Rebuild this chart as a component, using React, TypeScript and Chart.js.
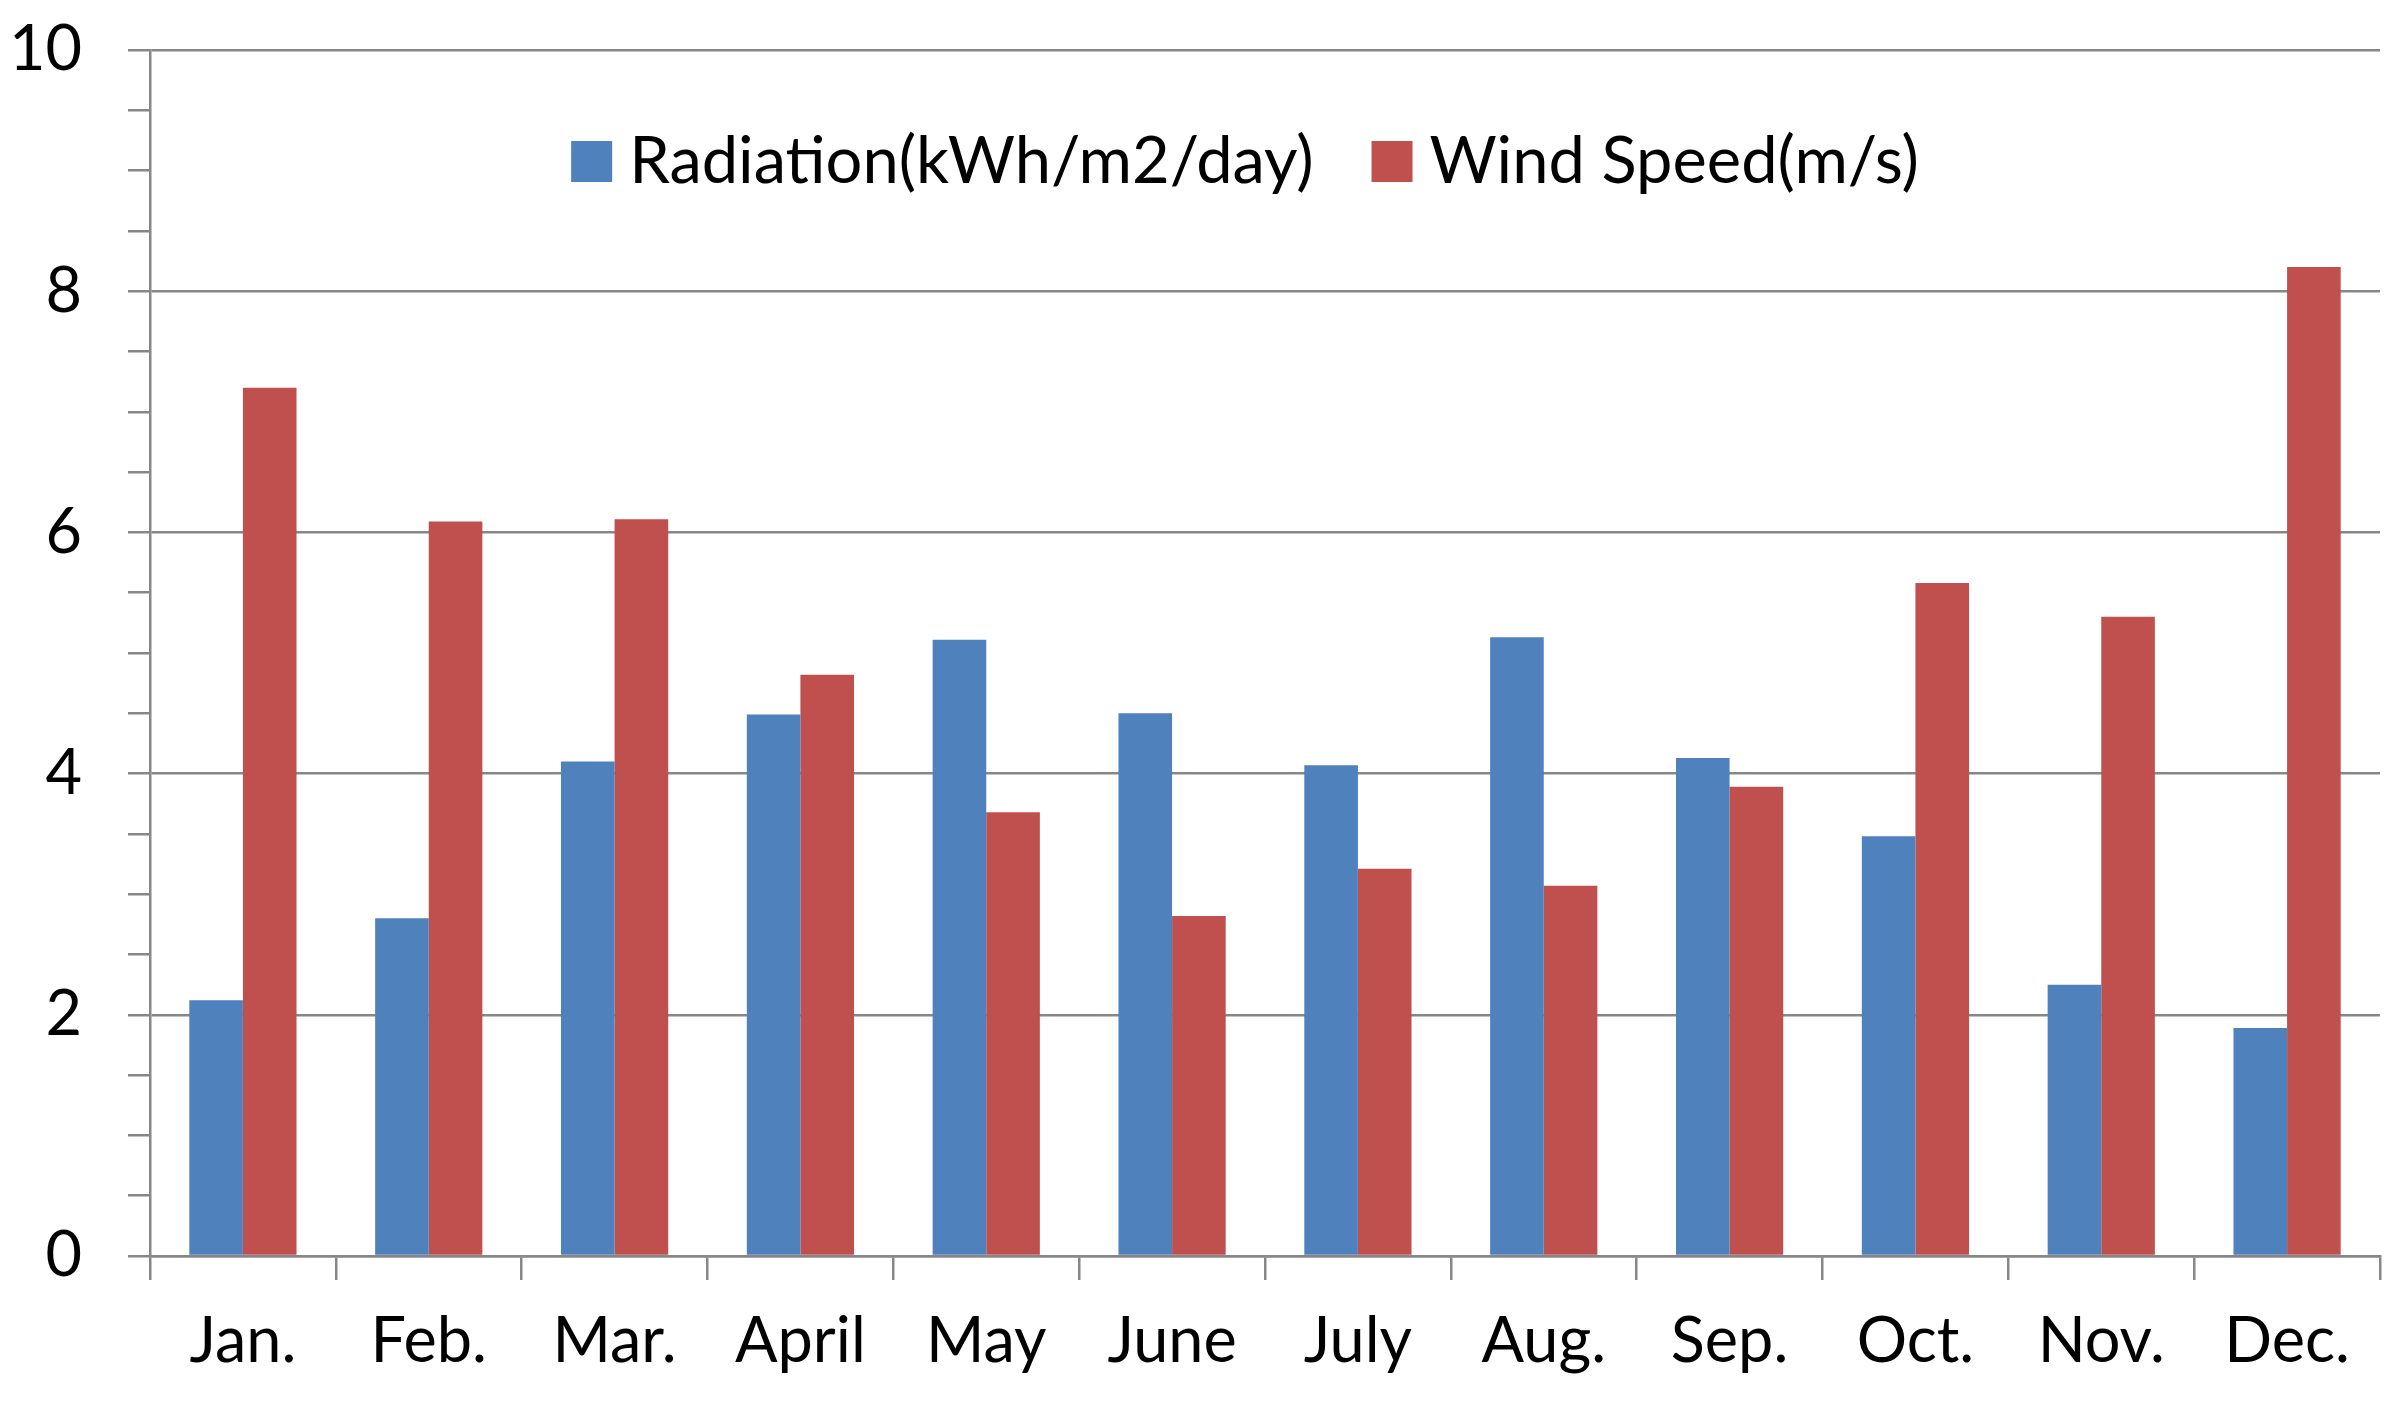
import React, { useEffect, useRef } from "react";
import { Chart, registerables } from "chart.js";

Chart.register(...registerables);

const categories = ["Jan.", "Feb.", "Mar.", "April", "May", "June", "July", "Aug.", "Sep.", "Oct.", "Nov.", "Dec."];
const radiation = [2.12, 2.8, 4.1, 4.49, 5.11, 4.5, 4.07, 5.13, 4.13, 3.48, 2.25, 1.89];
const windSpeed = [7.2, 6.09, 6.11, 4.82, 3.68, 2.82, 3.21, 3.07, 3.89, 5.58, 5.3, 8.2];
const seriesNames = ["Radiation(kWh/m2/day)", "Wind Speed(m/s)"];
const seriesColors = ["#4F81BD", "#C0504D"];
const yMin = 0;
const yMax = 10;
const yMajorStep = 2;
const yMinorStep = 0.5;

const GRAY = "#878787";
const FONT_FAMILY = "Lato, 'Noto Sans', sans-serif";
const FONT_SIZE = 63;
const LEGEND_FONT_SIZE = 65;

const insideLegend = {
  id: "insideLegend",
  afterDraw(chart: any) {
    const ctx = chart.ctx as CanvasRenderingContext2D;
    ctx.save();
    ctx.font = `${LEGEND_FONT_SIZE}px ${FONT_FAMILY}`;
    const box = 41;
    const gapText = 17;
    const gapItem = 58;
    const items = chart.data.datasets.map((ds: any) => ({
      label: ds.label as string,
      color: ds.backgroundColor as string,
      w: ctx.measureText(ds.label).width,
    }));
    const total = items.reduce(
      (s: number, it: any, i: number) => s + box + gapText + it.w + (i ? gapItem : 0),
      0
    );
    let x = 1245 - total / 2;
    const cy = 161.5;
    items.forEach((it: any) => {
      ctx.fillStyle = it.color;
      ctx.fillRect(x, cy - box / 2, box, box);
      x += box + gapText;
      ctx.fillStyle = "#000";
      ctx.textBaseline = "alphabetic";
      ctx.textAlign = "left";
      ctx.fillText(it.label, x, 183);
      x += it.w + gapItem;
    });
    ctx.restore();
  },
};

export default function App() {
  const ref = useRef<HTMLCanvasElement | null>(null);

  useEffect(() => {
    if (!ref.current) return;
    const chart = new Chart(ref.current, {
      type: "bar",
      data: {
        labels: categories,
        datasets: [
          {
            label: seriesNames[0],
            data: radiation,
            backgroundColor: seriesColors[0],
            borderWidth: 0,
            categoryPercentage: 0.577,
            barPercentage: 1,
          },
          {
            label: seriesNames[1],
            data: windSpeed,
            backgroundColor: seriesColors[1],
            borderWidth: 0,
            categoryPercentage: 0.577,
            barPercentage: 1,
          },
        ],
      },
      options: {
        responsive: false,
        animation: false,
        devicePixelRatio: 1,
        layout: { padding: { left: 0, right: 22, top: 50, bottom: 0 } },
        plugins: {
          legend: { display: false },
          tooltip: { enabled: false },
        },
        scales: {
          x: {
            grid: {
              offset: true,
              drawOnChartArea: false,
              drawTicks: true,
              tickLength: 24,
              color: GRAY,
              lineWidth: 2.5,
            },
            border: { display: true, color: GRAY, width: 2.5 },
            ticks: {
              color: "#000",
              padding: 24,
              font: { family: FONT_FAMILY, size: FONT_SIZE },
              maxRotation: 0,
              autoSkip: false,
            },
            afterFit: (scale: any) => {
              scale.height = 153;
            },
          },
          y: {
            min: yMin,
            max: yMax,
            grid: {
              color: (c: any) =>
                c.tick && Math.abs(c.tick.value % yMajorStep) < 1e-9 ? GRAY : "rgba(0,0,0,0)",
              tickColor: GRAY,
              lineWidth: 2.5,
              tickLength: 22,
              drawTicks: true,
            },
            border: { display: true, color: GRAY, width: 2.5 },
            ticks: {
              stepSize: yMinorStep,
              autoSkip: false,
              color: "#000",
              padding: 46,
              font: { family: FONT_FAMILY, size: FONT_SIZE },
              callback: (v: any) => (Math.abs(Number(v) % yMajorStep) < 1e-9 ? String(v) : ""),
            },
            afterFit: (scale: any) => {
              scale.width = 150;
              scale.paddingTop = 0;
              scale.paddingBottom = 0;
            },
          },
        },
      },
      plugins: [insideLegend],
    });
    return () => chart.destroy();
  }, []);

  return (
    <div style={{ position: "absolute", left: 0, top: 0, width: 2402, height: 1409, background: "#fff" }}>
      <canvas ref={ref} width={2402} height={1409} style={{ width: 2402, height: 1409, display: "block" }} />
    </div>
  );
}
